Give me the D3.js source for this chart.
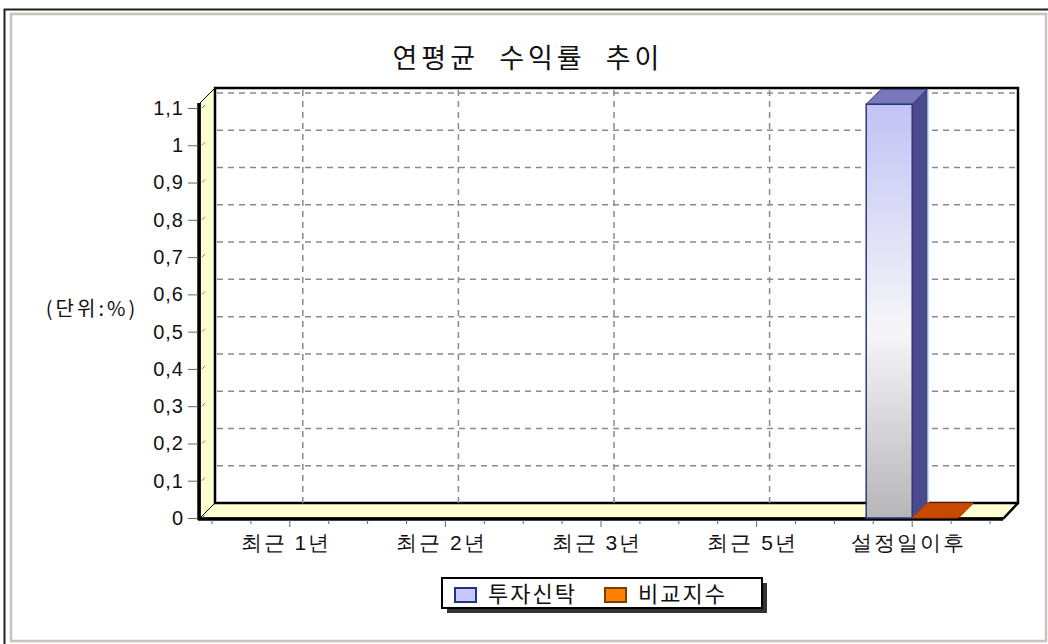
<!DOCTYPE html>
<html>
<head>
<meta charset="utf-8">
<script src="https://cdn.jsdelivr.net/npm/d3@7"></script>
<style>
  html, body { margin: 0; padding: 0; background: #fff; }
  svg { display: block; font-family: "Noto Sans CJK KR", "Noto Sans", sans-serif; }
</style>
</head>
<body>
<svg width="1048" height="644"></svg>
<script>
// 차트 데이터
var categories = ['최근 1년', '최근 2년', '최근 3년', '최근 5년', '설정일이후'];
var seriesNames = ['투자신탁', '비교지수'];
var fundValues = [null, null, null, null, 1.11];
var indexValues = [null, null, null, null, 0];
var yTicks = [0, 0.1, 0.2, 0.3, 0.4, 0.5, 0.6, 0.7, 0.8, 0.9, 1, 1.1];
var yTickLabels = ['0', '0,1', '0,2', '0,3', '0,4', '0,5', '0,6', '0,7', '0,8', '0,9', '1', '1,1'];

var svg = d3.select('svg'),
    depth = 15,
    plotLeft = 200, plotRight = 1003;

var x0 = d3.scaleBand().domain(categories).range([212, 990]);
var x1 = d3.scaleBand().domain(seriesNames).range([-46, 46]);
var y = d3.scaleLinear().domain([0, 1.1]).range([518, 108]);
var plotTop = y(1.1) - 5, floor = y(0);
var bw = x0.bandwidth();

// 바깥 테두리
svg.append('rect').attr('x', 0).attr('y', 0).attr('width', 1048).attr('height', 644).attr('fill', '#fff');
svg.append('path').attr('d', 'M4.5,644 V9.5 H1048').attr('fill', 'none').attr('stroke', '#222').attr('stroke-width', 2);
svg.append('path').attr('d', 'M11,641 V14 H1046 V641 Z').attr('fill', 'none').attr('stroke', '#c8c4bc').attr('stroke-width', 2.5);

// 제목
svg.append('text')
    .attr('x', 528).attr('y', 68)
    .attr('text-anchor', 'middle')
    .style('font-size', '27px')
    .style('letter-spacing', '4px')
    .style('white-space', 'pre')
    .attr('fill', '#111')
    .text('연평균  수익률  추이');

var g = svg.append('g');

// 왼쪽 벽, 바닥 (노란색)
g.append('path')
    .attr('d', 'M' + plotLeft + ',' + plotTop + ' L' + (plotLeft + depth) + ',' + (plotTop - depth) + ' L' + (plotLeft + depth) + ',' + (floor - depth) + ' L' + plotLeft + ',' + floor + ' Z')
    .attr('fill', '#ffffd4').attr('stroke', '#000').attr('stroke-width', 1);
g.append('path')
    .attr('d', 'M' + plotLeft + ',' + floor + ' L' + (plotLeft + depth) + ',' + (floor - depth) + ' L' + (plotRight + depth) + ',' + (floor - depth) + ' L' + plotRight + ',' + floor + ' Z')
    .attr('fill', '#ffffd4').attr('stroke', '#000').attr('stroke-width', 1);

// 뒷벽
g.append('rect')
    .attr('x', plotLeft + depth).attr('y', plotTop - depth)
    .attr('width', plotRight - plotLeft).attr('height', floor - plotTop)
    .attr('fill', '#fff').attr('stroke', '#000').attr('stroke-width', 2.5);

// 격자선
g.append('g').selectAll('line')
    .data(yTicks.slice(1))
    .enter().append('line')
    .attr('x1', plotLeft + depth + 2).attr('x2', plotRight + depth - 2)
    .attr('y1', function(d) { return y(d) - depth; })
    .attr('y2', function(d) { return y(d) - depth; })
    .attr('stroke', '#8a8a8a').attr('stroke-width', 1.5).attr('stroke-dasharray', '6,5');

g.append('g').selectAll('line')
    .data(categories)
    .enter().append('line')
    .attr('x1', function(d) { return x0(d) + bw / 2 + depth - 2; })
    .attr('x2', function(d) { return x0(d) + bw / 2 + depth - 2; })
    .attr('y1', plotTop - depth + 2).attr('y2', floor - depth)
    .attr('stroke', '#8a8a8a').attr('stroke-width', 1.5).attr('stroke-dasharray', '6,5');

// 왼쪽 벽의 작은 눈금
g.append('g').selectAll('line')
    .data(yTicks)
    .enter().append('line')
    .attr('x1', plotLeft + 2).attr('x2', plotLeft + 5)
    .attr('y1', function(d) { return y(d); })
    .attr('y2', function(d) { return y(d) - 3; })
    .attr('stroke', '#777');

// 앞쪽 굵은 테두리
g.append('line').attr('x1', plotLeft - 1).attr('x2', plotLeft - 1).attr('y1', plotTop).attr('y2', floor + 2)
    .attr('stroke', '#000').attr('stroke-width', 3.5);
g.append('line').attr('x1', plotLeft - 2).attr('x2', plotRight).attr('y1', floor + 1).attr('y2', floor + 1)
    .attr('stroke', '#000').attr('stroke-width', 3.5);
g.append('line').attr('x1', plotRight).attr('x2', plotRight + depth).attr('y1', floor + 1).attr('y2', floor - depth)
    .attr('stroke', '#000').attr('stroke-width', 2.5);

// Y축
var yAxis = svg.append('g')
    .attr('transform', 'translate(' + (plotLeft - 2) + ',0)')
    .call(d3.axisLeft(y).tickValues(yTicks).tickFormat(function(d, i) { return yTickLabels[i]; }).tickSize(10).tickPadding(4));
yAxis.select('.domain').remove();
yAxis.selectAll('line').attr('stroke', '#666');
yAxis.selectAll('text').style('font-size', '20px').style('letter-spacing', '1px').attr('fill', '#111');

// X축 눈금 (밴드의 1/4 간격)
var xTickPos = [];
categories.forEach(function(c) {
  for (var k = 0; k < 4; k++) xTickPos.push({x: x0(c) + k * bw / 4, major: k == 2});
});
xTickPos.push({x: x0(categories[categories.length - 1]) + bw, major: false});
g.append('g').selectAll('line')
    .data(xTickPos)
    .enter().append('line')
    .attr('x1', function(d) { return d.x; }).attr('x2', function(d) { return d.x; })
    .attr('y1', floor + 2).attr('y2', function(d) { return d.major ? floor + 9 : floor + 6; })
    .attr('stroke', '#666');

var xAxis = svg.append('g')
    .attr('transform', 'translate(-4,' + (floor + 2) + ')')
    .call(d3.axisBottom(x0).tickSize(0).tickPadding(15));
xAxis.select('.domain').remove();
xAxis.selectAll('text').style('font-size', '21px').style('letter-spacing', '2px').attr('fill', '#111');

// 막대 (3D)
var defs = svg.append('defs');
var grad = defs.append('linearGradient').attr('id', 'fundGrad').attr('x1', 0).attr('y1', 0).attr('x2', 0).attr('y2', 1);
grad.append('stop').attr('offset', '0%').attr('stop-color', '#c2c2f6');
grad.append('stop').attr('offset', '55%').attr('stop-color', '#f6f6f8');
grad.append('stop').attr('offset', '100%').attr('stop-color', '#b6b6b8');

var barStyle = [
  {front: 'url(#fundGrad)', side: '#4a4a8c', top: '#7878ba', stroke: '#2a3a78'},
  {front: '#c84a00', side: '#8a3000', top: '#c84a00', stroke: '#a83c00'}
];

var barData = [];
categories.forEach(function(c, i) {
  [fundValues[i], indexValues[i]].forEach(function(v, s) {
    if (v != null) barData.push({cat: c, key: seriesNames[s], value: v, s: s});
  });
});

var bars = g.append('g').selectAll('g')
    .data(barData)
    .enter().append('g');

bars.each(function(d) {
  var el = d3.select(this);
  var xl = x0(d.cat) + bw / 2 + x1(d.key),
      xr = xl + x1.bandwidth(),
      yt = y(d.value),
      yb = y(0),
      st = barStyle[d.s];
  el.append('path')
      .attr('d', 'M' + xr + ',' + yt + ' L' + (xr + depth) + ',' + (yt - depth) + ' L' + (xr + depth) + ',' + (yb - depth) + ' L' + xr + ',' + yb + ' Z')
      .attr('fill', st.side).attr('stroke', st.stroke);
  el.append('path')
      .attr('d', 'M' + xl + ',' + yt + ' L' + (xl + depth) + ',' + (yt - depth) + ' L' + (xr + depth) + ',' + (yt - depth) + ' L' + xr + ',' + yt + ' Z')
      .attr('fill', st.top).attr('stroke', st.stroke);
  if (yb - yt > 0) {
    el.append('rect')
        .attr('x', xl).attr('y', yt)
        .attr('width', xr - xl).attr('height', yb - yt)
        .attr('fill', st.front).attr('stroke', st.stroke).attr('stroke-width', 1.5);
    el.append('line')
        .attr('x1', xr + depth + 1).attr('x2', xr + depth + 1)
        .attr('y1', yt - depth).attr('y2', yb - depth)
        .attr('stroke', '#b8e4f4').attr('stroke-width', 1.5);
  }
});

// 단위
svg.append('text')
    .attr('x', 92).attr('y', 316)
    .attr('text-anchor', 'middle')
    .style('font-size', '20px')
    .style('letter-spacing', '3px')
    .attr('fill', '#111')
    .text('(단위:%)');

// 범례
var legend = svg.append('g').attr('transform', 'translate(442,578)');
legend.append('rect').attr('x', 5).attr('y', 5).attr('width', 320).attr('height', 30).attr('fill', '#333');
legend.append('rect').attr('x', 0).attr('y', 0).attr('width', 320).attr('height', 30)
    .attr('fill', '#fff').attr('stroke', '#000').attr('stroke-width', 2);

var legendColors = ['#c8c8ff', '#ff8000'], legendStroke = ['#203878', '#7a4000'];
var item = legend.selectAll('.item')
    .data(seriesNames)
    .enter().append('g')
    .attr('class', 'item')
    .attr('transform', function(d, i) { return 'translate(' + (13 + i * 150) + ',0)'; });
item.append('rect')
    .attr('x', 0).attr('y', 10).attr('width', 21).attr('height', 14)
    .attr('fill', function(d, i) { return legendColors[i]; })
    .attr('stroke', function(d, i) { return legendStroke[i]; })
    .attr('stroke-width', 2);
item.append('text')
    .attr('x', 33).attr('y', 24)
    .style('font-size', '22px')
    .style('letter-spacing', '2px')
    .attr('fill', '#111')
    .text(function(d) { return d; });
</script>
</body>
</html>
